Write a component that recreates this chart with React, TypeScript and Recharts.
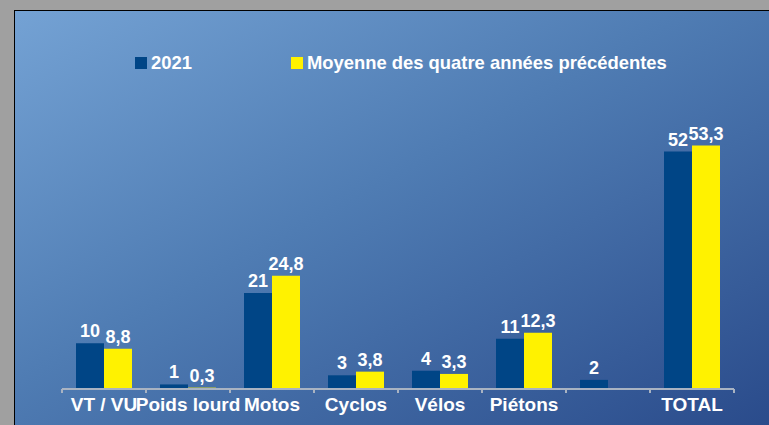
import React from 'react';
import { BarChart, Bar, XAxis, YAxis, LabelList } from 'recharts';

const categories = ['VT / VU', 'Poids lourd', 'Motos', 'Cyclos', 'Vélos', 'Piétons', '', 'TOTAL'];
const values2021 = [10, 1, 21, 3, 4, 11, 2, 52];
const valuesMoyenne: (number | null)[] = [8.8, 0.3, 24.8, 3.8, 3.3, 12.3, null, 53.3];
const seriesNames = ['2021', 'Moyenne des quatre années précédentes'];
const seriesColors = ['#004586', '#fff200'];

const data = categories.map((c, i) => ({ name: c, a: values2021[i], b: valuesMoyenne[i] }));

const W = 769;
const H = 425;
const MARGIN = { top: 115, right: 35, bottom: 0, left: 62 };
const HALF_BAND = (W - MARGIN.left - MARGIN.right) / categories.length / 2;
const FONT = '"Liberation Sans", Arial, sans-serif';
const TICK_SIZE = 4;
const TICK_MARGIN = 5;

const fmt = (v: any) => (v == null ? '' : String(v).replace('.', ','));

const CustomTick = (props: any) => {
  const { x, y, payload, index } = props;
  const axisY = y - TICK_SIZE - TICK_MARGIN;
  const last = index === categories.length - 1;
  return (
    <g>
      <line x1={x - HALF_BAND} x2={x - HALF_BAND} y1={axisY} y2={axisY + TICK_SIZE} stroke="#a9b3c2" strokeWidth={2} />
      {last && (
        <line x1={x + HALF_BAND} x2={x + HALF_BAND} y1={axisY} y2={axisY + TICK_SIZE} stroke="#a9b3c2" strokeWidth={2} />
      )}
      <text x={x} y={y + 13} textAnchor="middle" fill="#ffffff" fontSize={19} fontWeight="bold" fontFamily={FONT}>
        {payload.value}
      </text>
    </g>
  );
};

const legendX = [135, 291];

export default function App() {
  return (
    <div style={{ position: 'absolute', left: 0, top: 0, width: W, height: H, background: '#a0a0a0', overflow: 'hidden' }}>
      <div
        style={{
          position: 'absolute',
          left: 14,
          top: 10,
          width: W - 14,
          height: H - 10,
          borderTop: '1px solid #000',
          borderLeft: '1px solid #000',
          background: 'linear-gradient(to bottom right, #74a2d4 0%, #4f7cb3 45%, #2a4b8b 100%)',
        }}
      />
      <div style={{ position: 'absolute', left: 0, top: 0 }}>
        <BarChart width={W} height={H} data={data} margin={MARGIN} barCategoryGap={14} barGap={0}>
          <YAxis hide domain={[0, 60]} />
          <XAxis
            dataKey="name"
            height={H - 389}
            interval={0}
            tickLine={false}
            tickSize={TICK_SIZE}
            tickMargin={TICK_MARGIN}
            axisLine={{ stroke: '#a9b3c2', strokeWidth: 2 }}
            tick={<CustomTick />}
          />
          <Bar dataKey="a" name={seriesNames[0]} fill={seriesColors[0]} isAnimationActive={false}>
            <LabelList dataKey="a" position="top" offset={6} formatter={fmt} fill="#ffffff" fontSize={18} fontWeight="bold" fontFamily={FONT} />
          </Bar>
          <Bar dataKey="b" name={seriesNames[1]} fill={seriesColors[1]} isAnimationActive={false}>
            <LabelList dataKey="b" position="top" offset={6} formatter={fmt} fill="#ffffff" fontSize={18} fontWeight="bold" fontFamily={FONT} />
          </Bar>
        </BarChart>
      </div>
      <svg width={W} height={H} style={{ position: 'absolute', left: 0, top: 0, pointerEvents: 'none' }}>
        {seriesNames.map((n, i) => (
          <g key={n}>
            <rect x={legendX[i]} y={57} width={12} height={12} fill={seriesColors[i]} />
            <text x={legendX[i] + 16} y={69} fill="#ffffff" fontSize={18.4} fontWeight="bold" fontFamily={FONT}>
              {n}
            </text>
          </g>
        ))}
      </svg>
    </div>
  );
}
